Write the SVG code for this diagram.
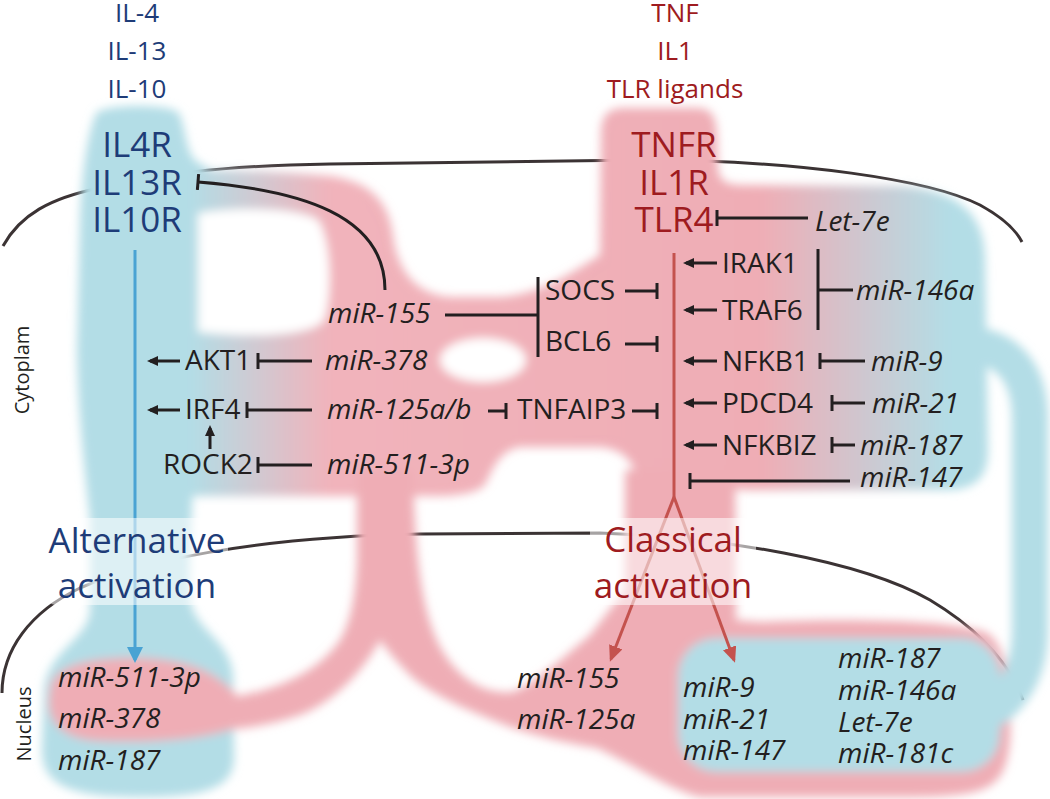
<svg xmlns="http://www.w3.org/2000/svg" width="1050" height="799" viewBox="0 0 1050 799">
<defs>
<style>
text{font-family:"Open Sans","Noto Sans","Liberation Sans",sans-serif;}
.navy{fill:#1e3c78;}
.red{fill:#9e1b20;}
.lig{font-size:26px;text-anchor:middle;}
.rec{font-size:35px;text-anchor:middle;}
.act{font-size:35px;text-anchor:middle;}
.lbl{font-size:28px;fill:#231f20;}
.mir{font-size:28px;fill:#231f20;font-style:italic;}
.side{font-size:20px;fill:#231f20;text-anchor:middle;}
.blk{stroke:#231f20;stroke-width:3;fill:none;}
.inh{marker-end:url(#tee);}
.arr{marker-end:url(#ah);}
.mem{stroke:#3b3334;stroke-width:3;fill:none;}
.redl{stroke:#c4524e;stroke-width:3;fill:none;}
.pk{fill:#efadb5;}
.bl{fill:#b3dde6;}
.wh{fill:#ffffff;}
.box{fill:#ffffff;fill-opacity:0.55;}
</style>
<linearGradient id="cyto" gradientUnits="userSpaceOnUse" x1="0" y1="0" x2="1050" y2="0">
<stop offset="0.181" stop-color="#b3dde6"/>
<stop offset="0.314" stop-color="#f1b3bb"/>
<stop offset="0.724" stop-color="#efadb5"/>
<stop offset="0.905" stop-color="#b3dde6"/>
</linearGradient>
<filter id="soft" x="-5%" y="-5%" width="110%" height="110%">
<feGaussianBlur stdDeviation="5"/>
</filter>
<marker id="tee" markerUnits="userSpaceOnUse" viewBox="0 0 4 16" refX="2" refY="8" markerWidth="4" markerHeight="16" orient="auto">
<rect x="0.5" y="0" width="3" height="16" fill="#231f20"/>
</marker>
<marker id="ah" markerUnits="userSpaceOnUse" viewBox="0 0 11 10" refX="8" refY="5" markerWidth="11" markerHeight="10" orient="auto">
<path d="M0,0 L11,5 L0,10 z" fill="#231f20"/>
</marker>
<marker id="ahr" markerUnits="userSpaceOnUse" viewBox="0 0 16 14" refX="13" refY="7" markerWidth="16" markerHeight="14" orient="auto">
<path d="M0,0 L16,7 L0,14 z" fill="#c4524e"/>
</marker>
<marker id="ahb" markerUnits="userSpaceOnUse" viewBox="0 0 16 16" refX="13" refY="8" markerWidth="16" markerHeight="16" orient="auto">
<path d="M0,0 L16,8 L0,16 z" fill="#4aa3d3"/>
</marker>
</defs>

<rect width="1050" height="799" fill="#ffffff"/>

<!-- membranes -->
<g id="membranes">
<path class="mem" d="M3,246 C20,215 50,198 100,188 C150,178 200,166 330,164 L640,160 C800,160 930,180 980,205 C1000,216 1015,228 1022,242"/>
<path class="mem" d="M2,693 C2,650 30,612 80,588 C140,562 250,537 420,534 L600,533 C720,537 860,560 930,600 C980,630 1010,665 1023,700"/>
</g>

<!-- background regions -->
<g id="regions" filter="url(#soft)">
<path class="bl" d="M97,112 C112,104 165,104 178,112 C186,125 185,150 195,160 C200,165 208,166 212,172 L210,205 C200,210 195,215 194,230 L193,480 C192,520 188,560 190,600 C195,630 230,640 233,675 L234,760 C232,790 200,797 140,797 C70,797 42,785 42,750 L44,690 C48,650 88,640 90,610 L90,520 C86,480 78,420 77,350 L80,220 C82,170 88,130 97,112 Z"/>
<path fill="url(#cyto)" d="M150,172 C190,168 260,170 330,176 C370,182 388,200 393,235 C396,262 410,294 450,297 L500,297 C545,294 575,270 600,255 L601,135 C601,115 608,108 625,108 L695,108 C712,108 716,116 717,135 L718,170 C720,182 728,185 745,185 L900,186 C960,190 985,215 985,260 L988,450 C988,478 975,490 945,490 L745,490 L640,480 C632,465 628,450 600,447 L520,447 C500,450 492,470 485,485 C478,492 460,496 440,496 L150,496 Z"/>
<path class="wh" d="M198,213 C240,206 300,208 318,220 C332,240 332,300 324,320 C314,336 250,338 198,332 Z"/>
<ellipse class="wh" cx="483" cy="360" rx="43" ry="22"/>
<path class="pk" d="M357,470 L413,470 C415,560 422,620 445,655 C465,685 490,694 513,692 C540,680 560,660 590,635 L625,590 L625,470 L735,470 L736,620 L760,622 C850,618 950,620 985,632 C1010,645 1012,700 1010,740 C1005,790 990,797 900,797 L700,797 C670,790 640,768 597,748 C560,742 535,735 513,728 C480,715 440,700 413,678 C400,665 388,652 380,640 C370,660 340,700 300,715 C270,725 245,729 225,729 L232,697 C280,690 320,670 340,640 C352,620 356,590 357,560 Z"/>
<path class="pk" d="M50,692 C50,665 90,657 140,658 C190,660 215,672 236,694 L236,728 C200,740 150,743 100,741 C60,739 45,720 50,692 Z"/>
<path d="M975,345 C1010,350 1030,375 1030,420 L1030,630 C1030,670 1015,695 990,712" stroke="#b3dde6" stroke-width="36" fill="none" stroke-linecap="round"/>
<rect class="bl" x="678" y="638" width="322" height="134" rx="38"/>
</g>

<!-- connectors -->
<g id="connectors">
<line x1="135" y1="250" x2="135" y2="660" stroke="#4aa3d3" stroke-width="3" marker-end="url(#ahb)"/>
<path class="redl" d="M674,253 L674,497"/>
<line class="redl" x1="674" y1="497" x2="611" y2="659" marker-end="url(#ahr)"/>
<line class="redl" x1="674" y1="497" x2="734" y2="660" marker-end="url(#ahr)"/>
</g>

<!-- activation label boxes -->
<g id="alternative-activation">
<rect class="box" x="45" y="518" width="183" height="87" rx="12"/>
<text class="act navy" x="137" y="553">Alternative</text>
<text class="act navy" x="137" y="598">activation</text>
</g>
<g id="classical-activation">
<rect class="box" x="590" y="518" width="166" height="87" rx="12"/>
<text class="act red" x="673" y="552">Classical</text>
<text class="act red" x="673" y="598">activation</text>
</g>

<g id="connectors-2">
<path class="blk inh" d="M385,290 C385,215 300,190 198,182"/>
<line class="blk" x1="445" y1="315" x2="538" y2="315"/>
<line class="blk" x1="538" y1="277" x2="538" y2="357"/>
<line class="blk inh" x1="625" y1="291" x2="657" y2="291"/>
<line class="blk inh" x1="625" y1="344" x2="657" y2="344"/>
<line class="blk inh" x1="632" y1="411" x2="657" y2="411"/>
<line class="blk inh" x1="488" y1="411" x2="506" y2="411"/>
<line class="blk arr" x1="180" y1="361" x2="150" y2="361"/>
<line class="blk inh" x1="312" y1="361" x2="258" y2="361"/>
<line class="blk arr" x1="180" y1="410" x2="150" y2="410"/>
<line class="blk inh" x1="312" y1="410" x2="247" y2="410"/>
<line class="blk arr" x1="210" y1="449" x2="210" y2="428"/>
<line class="blk inh" x1="312" y1="465" x2="258" y2="465"/>
<line class="blk inh" x1="808" y1="218" x2="717" y2="218"/>
<line class="blk arr" x1="717" y1="263" x2="686" y2="263"/>
<line class="blk arr" x1="717" y1="310" x2="686" y2="310"/>
<line class="blk" x1="818" y1="249" x2="818" y2="330"/>
<line class="blk" x1="853" y1="290" x2="818" y2="290"/>
<line class="blk arr" x1="717" y1="361" x2="686" y2="361"/>
<line class="blk inh" x1="865" y1="361" x2="820" y2="361"/>
<line class="blk arr" x1="717" y1="403" x2="686" y2="403"/>
<line class="blk inh" x1="865" y1="403" x2="832" y2="403"/>
<line class="blk arr" x1="717" y1="445" x2="686" y2="445"/>
<line class="blk inh" x1="855" y1="445" x2="832" y2="445"/>
<line class="blk inh" x1="850" y1="481" x2="690" y2="481"/>
</g>

<!-- ligands and receptors -->
<g id="il-ligands"><text class="lig navy" x="137" y="22">IL-4</text><text class="lig navy" x="137" y="60">IL-13</text><text class="lig navy" x="137" y="98">IL-10</text></g>
<g id="il-receptors"><text class="rec navy" x="137" y="157">IL4R</text><text class="rec navy" x="137" y="195">IL13R</text><text class="rec navy" x="137" y="232">IL10R</text></g>
<g id="tnf-ligands"><text class="lig red" x="675" y="22">TNF</text><text class="lig red" x="675" y="60">IL1</text><text class="lig red" x="675" y="98">TLR ligands</text></g>
<g id="tnf-receptors"><text class="rec red" x="674" y="157">TNFR</text><text class="rec red" x="674" y="195">IL1R</text><text class="rec red" x="674" y="232">TLR4</text></g>

<!-- side labels -->
<g id="cytoplasm-label"><text class="side" transform="translate(29,370) rotate(-90)">Cytoplam</text></g>
<g id="nucleus-label"><text class="side" transform="translate(31,724) rotate(-90)">Nucleus</text></g>

<!-- cytoplasm nodes -->
<g id="n-mir155"><text class="mir" x="328" y="323">miR-155</text></g>
<g id="n-socs"><text class="lbl" x="545" y="300">SOCS</text></g>
<g id="n-bcl6"><text class="lbl" x="545" y="351">BCL6</text></g>
<g id="n-akt1"><text class="lbl" x="185" y="370">AKT1</text></g>
<g id="n-mir378"><text class="mir" x="325" y="370">miR-378</text></g>
<g id="n-irf4"><text class="lbl" x="185" y="419">IRF4</text></g>
<g id="n-mir125ab"><text class="mir" x="327" y="419">miR-125a/b</text></g>
<g id="n-tnfaip3"><text class="lbl" x="517" y="419">TNFAIP3</text></g>
<g id="n-rock2"><text class="lbl" x="163" y="474">ROCK2</text></g>
<g id="n-mir511"><text class="mir" x="327" y="474">miR-511-3p</text></g>
<g id="n-let7e"><text class="mir" x="815" y="231">Let-7e</text></g>
<g id="n-irak1"><text class="lbl" x="722" y="273">IRAK1</text></g>
<g id="n-traf6"><text class="lbl" x="722" y="320">TRAF6</text></g>
<g id="n-mir146a"><text class="mir" x="856" y="300">miR-146a</text></g>
<g id="n-nfkb1"><text class="lbl" x="722" y="371">NFKB1</text></g>
<g id="n-mir9"><text class="mir" x="871" y="371">miR-9</text></g>
<g id="n-pdcd4"><text class="lbl" x="722" y="413">PDCD4</text></g>
<g id="n-mir21"><text class="mir" x="872" y="413">miR-21</text></g>
<g id="n-nfkbiz"><text class="lbl" x="722" y="455">NFKBIZ</text></g>
<g id="n-mir187"><text class="mir" x="860" y="455">miR-187</text></g>
<g id="n-mir147"><text class="mir" x="860" y="487">miR-147</text></g>

<!-- nucleus nodes -->
<g id="nuc-alternative"><text class="mir" x="58" y="687">miR-511-3p</text><text class="mir" x="58" y="728">miR-378</text><text class="mir" x="58" y="770">miR-187</text></g>
<g id="nuc-classical-1"><text class="mir" x="517" y="688">miR-155</text><text class="mir" x="517" y="729">miR-125a</text></g>
<g id="nuc-classical-2"><text class="mir" x="683" y="697">miR-9</text><text class="mir" x="683" y="729">miR-21</text><text class="mir" x="683" y="760">miR-147</text></g>
<g id="nuc-classical-3"><text class="mir" x="838" y="668">miR-187</text><text class="mir" x="838" y="700">miR-146a</text><text class="mir" x="838" y="732">Let-7e</text><text class="mir" x="838" y="763">miR-181c</text></g>
</svg>
